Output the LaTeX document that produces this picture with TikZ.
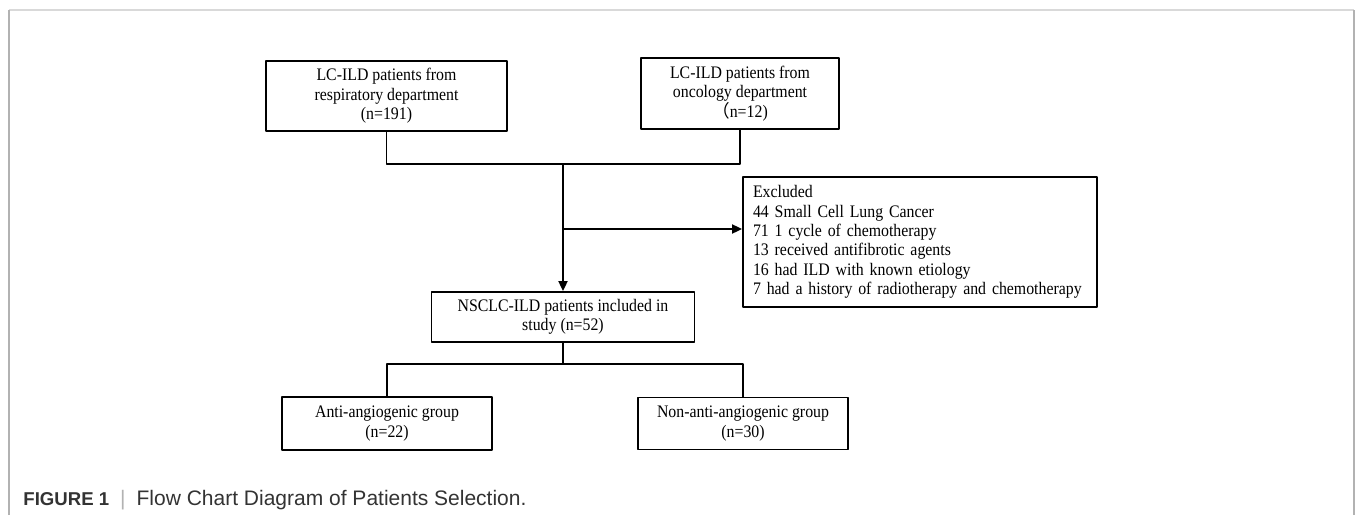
\documentclass[tikz,border=0pt]{standalone}
\usepackage{fontspec}
\setmainfont{Liberation Serif}
\newfontfamily\boxfont[FakeStretch=0.9]{Liberation Serif}
\newfontfamily\capfont{Liberation Sans}
\newfontfamily\cjk{Noto Sans CJK SC}
\usetikzlibrary{arrows.meta}
\begin{document}
\begin{tikzpicture}[x=0.5pt,y=-0.5pt,line join=round,
	box/.style={draw,line width=0.9pt,align=center,inner sep=0pt,font=\boxfont\fontsize{8.8}{9.7}\selectfont},
	link/.style={line width=0.9pt},
	arr/.style={line width=0.9pt,-{Triangle[length=5pt,width=4.5pt]}}]
	\useasboundingbox (0,0) rectangle (1355,515);
	\draw[line width=1pt,gray!30] (9,10) -- (1354,10);
	\draw[line width=1pt,gray!60] (9,515) -- (9,10) (1354,10) -- (1354,515);
	\node[box,minimum width=120.5pt,minimum height=35pt] (resp) at (386.5,96) {LC-ILD patients from\\respiratory department\\(n=191)};
	\node[box,minimum width=99pt,minimum height=35.5pt] (onco) at (740,93.5) {LC-ILD patients from\\oncology department\\{\cjk （}n=12)};
	\node[box,align=left,text width=167pt,inner xsep=5pt,minimum height=65pt] (excl) at (920,242) {Excluded\\44 Small Cell Lung Cancer\\71 1 cycle of chemotherapy\\13 received antifibrotic agents\\16 had ILD with known etiology\\7 had a history of radiotherapy and chemotherapy};
	\node[box,minimum width=131.5pt,minimum height=25pt] (nsclc) at (563,317) {NSCLC-ILD patients included in\\study (n=52)};
	\node[box,minimum width=105pt,minimum height=26.5pt] (anti) at (387,423.5) {Anti-angiogenic group\\(n=22)};
	\node[box,minimum width=105pt,minimum height=26pt] (non) at (743,423.5) {Non-anti-angiogenic group\\(n=30)};
	\coordinate (join) at (563,164);
	\coordinate (side) at (563,229);
	\coordinate (split) at (563,364);
	\draw[link] (resp.south) |- (join) -| (onco.south);
	\draw[arr] (join) -- (nsclc.north);
	\draw[arr] (side) -- (excl.west |- side);
	\draw[link] (nsclc.south) -- (split);
	\draw[link] (anti.north) |- (split) -| (non.north);
	\node[anchor=base west,inner sep=0pt,font=\capfont\fontsize{10.5}{12}\selectfont,text=black!80] (cap) at (23,505) {{\fontsize{9.3}{12}\selectfont\bfseries FIGURE 1}\hspace{5.5pt}{\color{gray!60}|}\hspace{5.5pt}Flow Chart Diagram of Patients Selection.};
\end{tikzpicture}
\end{document}
